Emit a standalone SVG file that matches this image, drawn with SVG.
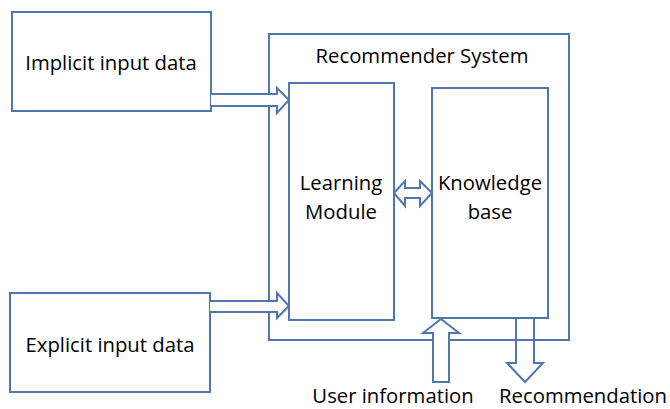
<svg xmlns="http://www.w3.org/2000/svg" width="670" height="409" viewBox="0 0 670 409">
<style>
.b{fill:#fff;stroke:#4f77ad;stroke-width:2}
.a{fill:#fff;stroke:#4f77ad;stroke-width:2;stroke-linejoin:miter}
.n{fill:none}
text{font-family:"Open Sans","Liberation Sans",sans-serif;font-size:20.3px;fill:#000;text-anchor:middle}
</style>
<rect width="670" height="409" fill="#fff"/>
<g id="recsys"><rect class="b" x="269" y="34" width="300" height="306"/><text x="422" y="63">Recommender System</text></g>
<g id="implicit"><rect class="b" x="12" y="12" width="199" height="99"/><text x="111" y="70">Implicit input data</text></g>
<g id="explicit"><rect class="b" x="10" y="293" width="200" height="99"/><text x="110" y="352">Explicit input data</text></g>
<g id="learning"><rect class="b" x="289" y="83" width="105" height="237"/><text x="341" y="190">Learning</text><text x="341" y="219">Module</text></g>
<g id="knowledge"><rect class="b" x="432" y="88" width="116" height="230"/><text x="490" y="190">Knowledge</text><text x="490" y="219">base</text></g>
<g id="connectors">
<path class="a" d="M211,94 H277 V88 L289,100 L277,113 V106 H211"/>
<path class="a" d="M210,301 H277 V293 L289,306 L277,318 V312 H210"/>
<path class="a" d="M394,193 L405,181 V188 H420 V181 L432,193 L420,206 V198 H405 V206 Z"/>
<path class="a" d="M433,382 V333 H423 L441,319 L459,333 H449 V382 Z"/>
<path class="a n" d="M516,318 V363 H507 L525,382 L543,363 H534 V318"/>
</g>
<g id="labels"><text x="393" y="403">User information</text><text x="583" y="403">Recommendation</text></g>
</svg>
